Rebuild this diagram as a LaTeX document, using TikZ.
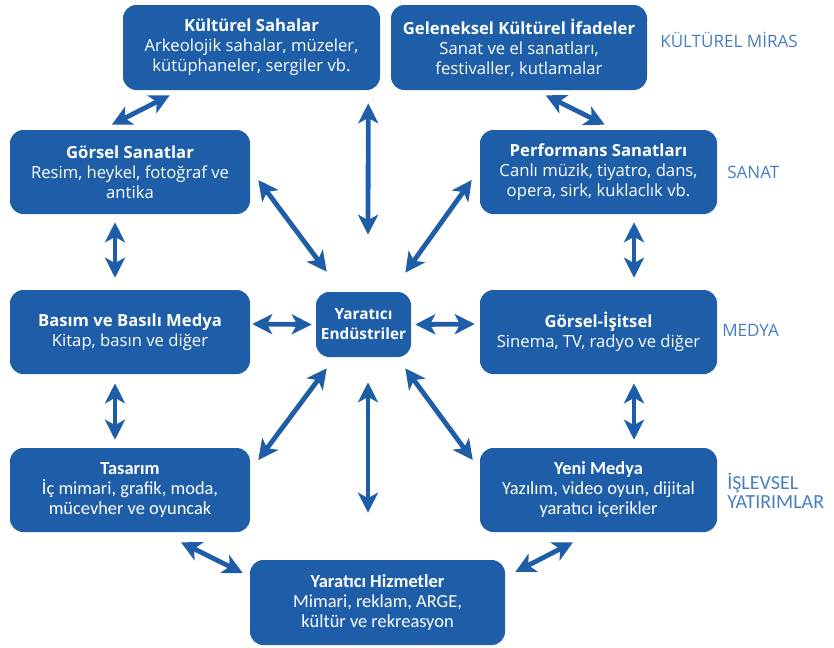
\documentclass[tikz,border=0pt]{standalone}
\usepackage{fontspec}
\setmainfont{Carlito}
\newfontfamily\opensans{Open Sans}
\usetikzlibrary{arrows.meta,calc}
\definecolor{boxblue}{RGB}{30,94,168}
\definecolor{labelblue}{RGB}{72,126,192}
\tikzset{
  box/.style={rectangle,rounded corners=10pt,fill=boxblue,text=white,align=center,
    minimum width=180pt,minimum height=63pt,inner sep=2pt,font=\opensans\fontsize{12.5}{15}\selectfont},
  narrowbox/.style={box,font=\fontsize{13.8}{15}\selectfont},
  link/.style={boxblue,line width=3.6pt,
    {Stealth[length=15pt,width=15pt,inset=4pt]}-{Stealth[length=15pt,width=15pt,inset=4pt]}},
  group/.style={text=labelblue,anchor=west,align=left,inner sep=0pt,font=\opensans\fontsize{12.8}{14}\selectfont}
}
\begin{document}
\begin{tikzpicture}[x=0.75pt,y=-0.75pt]
\useasboundingbox (0,0) rectangle (834,647);
% boxes
\node[box,minimum width=192.75pt,minimum height=63.75pt] (ks) at (251.5,47.5)
  {\textbf{Kültürel Sahalar}\\Arkeolojik sahalar, müzeler,\\kütüphaneler, sergiler vb.};
\node[box,minimum width=192pt,minimum height=63.75pt] (gk) at (519,47.5)
  {\textbf{Geleneksel Kültürel İfadeler}\\Sanat ve el sanatları,\\festivaller, kutlamalar};
\node[box] (gs) at (130,172) {\textbf{Görsel Sanatlar}\\Resim, heykel, fotoğraf ve\\antika};
\node[box,minimum width=177.75pt] (ps) at (598.5,172)
  {\textbf{Performans Sanatları}\\Canlı müzik, tiyatro, dans,\\opera, sirk, kuklaclık vb.};
\node[box] (bm) at (130,332) {\textbf{Basım ve Basılı Medya}\\Kitap, basın ve diğer};
\node[box,minimum width=71.25pt,minimum height=48.75pt,font=\opensans\fontsize{11.5}{15}\selectfont] (ye) at (363.5,324.5)
  {\textbf{Yaratıcı}\\\textbf{Endüstriler}};
\node[box,minimum width=177.75pt] (gi) at (598.5,332) {\textbf{Görsel-İşitsel}\\Sinema, TV, radyo ve diğer};
\node[narrowbox] (ts) at (130,490) {\textbf{Tasarım}\\İç mimari, grafik, moda,\\mücevher ve oyuncak};
\node[narrowbox,minimum width=177.75pt] (ym) at (598.5,490)
  {\textbf{Yeni Medya}\\Yazılım, video oyun, dijital\\yaratıcı içerikler};
\node[narrowbox,minimum width=191.25pt,minimum height=63.75pt] (yh) at (377.5,602.5)
  {\textbf{Yaratıcı Hizmetler}\\Mimari, reklam, ARGE,\\kültür ve rekreasyon};
% group labels
\node[group] (mir) at (660,40) {KÜLTÜREL MİRAS};
\node[group] (san) at (727,172) {SANAT};
\node[group] (med) at (722,330) {MEDYA};
\node[group,font=\fontsize{15}{14}\selectfont] (isl) at (727,491) {İŞLEVSEL\\YATIRIMLAR};
% arrows
\draw[link] ($(ks.south west)+(47,5)$) -- ($(gs.north west)+(102,-5)$);
\draw[link] ($(ks.south east)+(-12,13)$) -- ($(ye.north)+(4.5,-57)$);
\draw[link] ($(gk.south west)+(155,5)$) -- ($(ps.north west)+(125,-5)$);
\draw[link] ($(gs.east)+(8,8)$) -- ($(ye.north west)+(11,-20)$);
\draw[link] ($(ps.west)+(-8,8)$) -- ($(ye.north east)+(-6,-19)$);
\draw[link] ($(gs.south)+(-15,8)$) -- ($(bm.north)+(-15,-12)$);
\draw[link] ($(ps.south)+(35.5,8)$) -- ($(gi.north)+(35.5,-12)$);
\draw[link] ($(bm.east)+(2,-8)$) -- ($(ye.west)+(-4,0)$);
\draw[link] ($(ye.east)+(4,0)$) -- ($(gi.west)+(-5,-8)$);
\draw[link] ($(bm.south)+(-15,9)$) -- ($(ts.north)+(-15,-8)$);
\draw[link] ($(gi.south)+(35.5,9)$) -- ($(ym.north)+(35.5,-8)$);
\draw[link] ($(ye.south west)+(11,11)$) -- ($(ts.east)+(8,-30)$);
\draw[link] ($(ye.south east)+(-6,11)$) -- ($(ym.west)+(-7,-30)$);
\draw[link] ($(ye.south)+(4.5,25)$) -- ($(yh.north)+(-9.5,-47)$);
\draw[link] ($(ts.south)+(51,10)$) -- ($(yh.west)+(-7,-29.5)$);
\draw[link] ($(ym.south)+(-25.5,10)$) -- ($(yh.east)+(10,-30.5)$);
\end{tikzpicture}
\end{document}
